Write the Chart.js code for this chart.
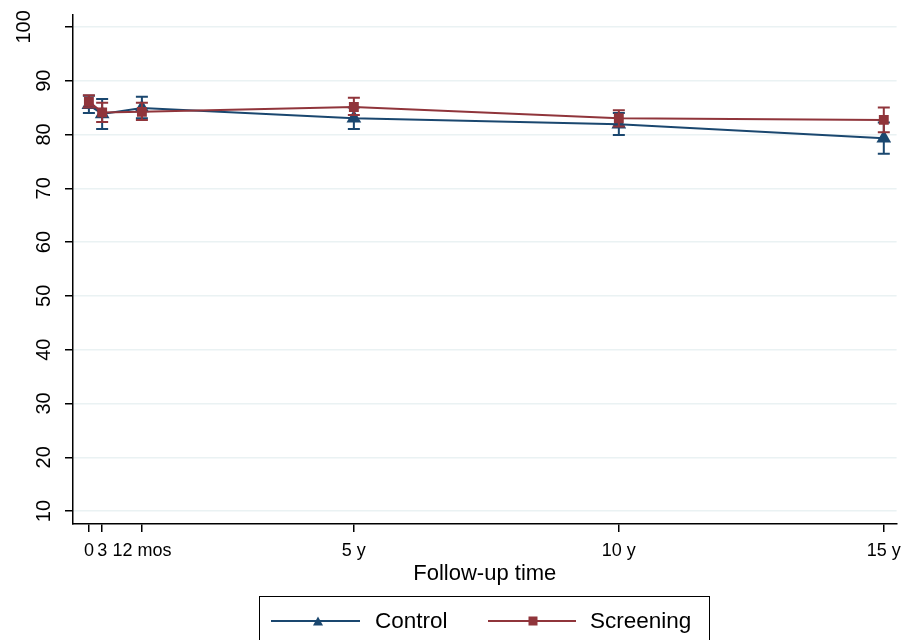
<!DOCTYPE html>
<html>
<head>
<meta charset="utf-8">
<script src="https://cdn.jsdelivr.net/npm/chart.js@4"></script>
<style>
  body { margin: 0; background: #fff; }
  #wrap { position: relative; width: 909px; height: 640px; overflow: hidden; background: #fff; }
  #legend {
    position: absolute; left: 259px; top: 596px; width: 451px; height: 60px;
    border: 1.5px solid #000; box-sizing: border-box;
    font-family: "Liberation Sans", Arial, sans-serif; font-size: 22.5px; color: #000;
  }
  #legend svg { position: absolute; left: 0; top: 0; }
  #legend span { position: absolute; top: 11px; line-height: 26px; }
</style>
</head>
<body>
<div id="wrap">
  <canvas id="chart" width="909" height="640"></canvas>
  <div id="legend">
    <svg width="451" height="60">
      <line x1="11" y1="24" x2="100" y2="24" stroke="#1a476f" stroke-width="2"/>
      <polygon points="53,28.5 63,28.5 58,19.5" fill="#1a476f"/>
      <line x1="228" y1="24" x2="316" y2="24" stroke="#90353b" stroke-width="2"/>
      <rect x="268.5" y="19.5" width="9" height="9" fill="#90353b"/>
    </svg>
    <span style="left:115px">Control</span>
    <span style="left:330px">Screening</span>
  </div>
</div>
<script>
// follow-up time in months
const months = [0, 3, 12, 60, 120, 180];
const xTickLabels = ['0', '3', '12 mos', '5 y', '10 y', '15 y'];
const yTicks = [10, 20, 30, 40, 50, 60, 70, 80, 90, 100];

const control = [85.5, 83.8, 84.9, 83.0, 81.9, 79.3];
const controlLo = [84.0, 81.0, 83.0, 81.0, 79.9, 76.4];
const controlHi = [87.2, 86.6, 87.0, 85.0, 84.0, 82.2];

const screening = [86.1, 84.1, 84.2, 85.1, 83.0, 82.7];
const screeningLo = [85.0, 82.3, 82.7, 83.6, 81.5, 80.4];
const screeningHi = [87.3, 85.9, 85.9, 86.8, 84.5, 85.0];

const NAVY = '#1a476f';
const MAROON = '#90353b';
const FONT = '"Liberation Sans", Arial, sans-serif';

// draw CI whiskers under each series' markers
const errorBars = {
  id: 'errorBars',
  beforeDatasetDraw(chart, args) {
    const ds = chart.data.datasets[args.index];
    const { ctx, scales: { x, y } } = chart;
    ctx.save();
    ctx.strokeStyle = ds.borderColor;
    ctx.lineWidth = 2;
    months.forEach((m, i) => {
      const px = x.getPixelForValue(m);
      const top = y.getPixelForValue(ds.errHi[i]);
      const bot = y.getPixelForValue(ds.errLo[i]);
      ctx.beginPath();
      ctx.moveTo(px, top); ctx.lineTo(px, bot);
      ctx.moveTo(px - 6, top); ctx.lineTo(px + 6, top);
      ctx.moveTo(px - 6, bot); ctx.lineTo(px + 6, bot);
      ctx.stroke();
    });
    ctx.restore();
  }
};

// vertical y tick labels, stata style
const yLabels = {
  id: 'yLabels',
  afterDraw(chart) {
    const { ctx, scales: { y } } = chart;
    ctx.save();
    ctx.fillStyle = '#000';
    ctx.font = '20px ' + FONT;
    ctx.textAlign = 'center';
    ctx.textBaseline = 'alphabetic';
    y.ticks.forEach(t => {
      const py = y.getPixelForValue(t.value);
      ctx.save();
      ctx.translate(t.value >= 100 ? 30 : 50, py);
      ctx.rotate(-Math.PI / 2);
      ctx.fillText(String(t.value), 0, 0);
      ctx.restore();
    });
    ctx.restore();
  }
};

new Chart(document.getElementById('chart'), {
  type: 'line',
  data: {
    datasets: [
      {
        label: 'Control',
        data: months.map((m, i) => ({ x: m, y: control[i] })),
        errLo: controlLo, errHi: controlHi,
        borderColor: NAVY, backgroundColor: NAVY,
        borderWidth: 2, pointStyle: 'triangle', pointRadius: 8.5,
        pointBorderWidth: 0, order: 1
      },
      {
        label: 'Screening',
        data: months.map((m, i) => ({ x: m, y: screening[i] })),
        errLo: screeningLo, errHi: screeningHi,
        borderColor: MAROON, backgroundColor: MAROON,
        borderWidth: 2, pointStyle: 'rect', pointRadius: 7,
        pointBorderWidth: 0, order: 0
      }
    ]
  },
  options: {
    responsive: false,
    animation: false,
    layout: { padding: { top: 15, right: 12, bottom: 53, left: 0 } },
    plugins: { legend: { display: false }, tooltip: { enabled: false } },
    scales: {
      x: {
        type: 'linear', min: -3.6, max: 182.9,
        afterBuildTicks: s => { s.ticks = months.map(v => ({ value: v })); },
        afterFit: s => { s.height = 63; },
        ticks: {
          autoSkip: false, maxRotation: 0, padding: 8,
          color: '#000', font: { family: FONT, size: 18 },
          callback: v => xTickLabels[months.indexOf(v)]
        },
        grid: { drawOnChartArea: false, drawTicks: true, tickLength: 8, color: '#000', lineWidth: 1.5 },
        border: { display: true, color: '#000', width: 1.5 },
        title: {
          display: true, text: 'Follow-up time', color: '#000',
          font: { family: FONT, size: 22 }, padding: { top: 0, bottom: 0 }
        }
      },
      y: {
        min: 7.6, max: 102.2,
        afterBuildTicks: s => { s.ticks = yTicks.map(v => ({ value: v })); },
        afterFit: s => { s.width = 73; },
        ticks: { color: 'rgba(0,0,0,0)', font: { family: FONT, size: 20 } },
        grid: { color: '#eaf2f3', lineWidth: 1.5, tickLength: 8, tickColor: '#000', tickWidth: 1.5 },
        border: { display: true, color: '#000', width: 1.5 }
      }
    }
  },
  plugins: [errorBars, yLabels]
});
</script>
</body>
</html>
